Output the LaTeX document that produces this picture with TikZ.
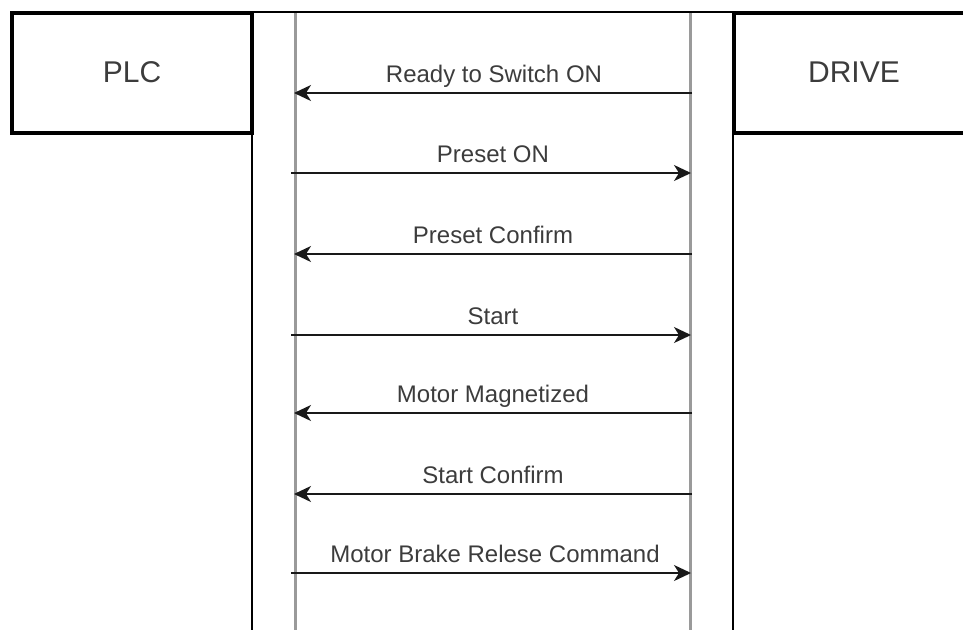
\documentclass[tikz,border=0pt]{standalone}
\usepackage{fontspec}
\setmainfont{Liberation Sans}
\usetikzlibrary{arrows.meta}
\definecolor{txt}{HTML}{3C3C3C}
\definecolor{life}{HTML}{9A9A9A}
\begin{document}
\begin{tikzpicture}[x=1pt,y=-1pt,
 actor/.style={draw=black, line width=4pt, minimum width=240pt, minimum height=120pt, inner sep=0pt, text=txt, font=\fontsize{30}{34}\selectfont},
 lifeline/.style={draw=life, line width=3pt},
 frameline/.style={draw=black, line width=1.3pt},
 msg/.style={draw=black!90, line width=1.5pt, -{Stealth[length=17pt,width=16pt,inset=5pt]}},
 lbl/.style={text=txt, font=\fontsize{24}{28}\selectfont, inner sep=0pt, anchor=base}]
\path[use as bounding box] (0,0) rectangle (963,629);
\clip (0,0) rectangle (963,629);
% frame
\coordinate (ftl) at (252,12);
\coordinate (ftr) at (733,12);
\coordinate (fbl) at (252,640);
\coordinate (fbr) at (733,640);
\draw[frameline] (fbl) -- (ftl) -- (ftr) -- (fbr);
% actors
\node[actor, fill=white] (plc) at (132,72.5) {PLC};
\node[actor, fill=white] (drive) at (854,72.5) {DRIVE};
% lifelines
\coordinate (lt) at (295,13);
\coordinate (lb) at (295,640);
\coordinate (rt) at (690,13);
\coordinate (rb) at (690,640);
\draw[lifeline] (lt) -- (lb);
\draw[lifeline] (rt) -- (rb);
% message end points
\coordinate (l1) at (294,93);  \coordinate (r1) at (692,93);
\coordinate (l2) at (291,173); \coordinate (r2) at (691,173);
\coordinate (l3) at (294,254); \coordinate (r3) at (692,254);
\coordinate (l4) at (291,335); \coordinate (r4) at (691,335);
\coordinate (l5) at (294,413); \coordinate (r5) at (692,413);
\coordinate (l6) at (294,494); \coordinate (r6) at (692,494);
\coordinate (l7) at (291,573); \coordinate (r7) at (691,573);
% messages
\draw[msg] (r1) -- (l1);
\draw[msg] (l2) -- (r2);
\draw[msg] (r3) -- (l3);
\draw[msg] (l4) -- (r4);
\draw[msg] (r5) -- (l5);
\draw[msg] (r6) -- (l6);
\draw[msg] (l7) -- (r7);
% labels
\node[lbl] (t1) at (494,82.5) {Ready to Switch ON};
\node[lbl] (t2) at (493,162.5) {Preset ON};
\node[lbl] (t3) at (493,243.5) {Preset Confirm};
\node[lbl] (t4) at (493,324.5) {Start};
\node[lbl] (t5) at (493,402.5) {Motor Magnetized};
\node[lbl] (t6) at (493,483.5) {Start Confirm};
\node[lbl] (t7) at (495,562.5) {Motor Brake Relese Command};
\end{tikzpicture}
\end{document}
